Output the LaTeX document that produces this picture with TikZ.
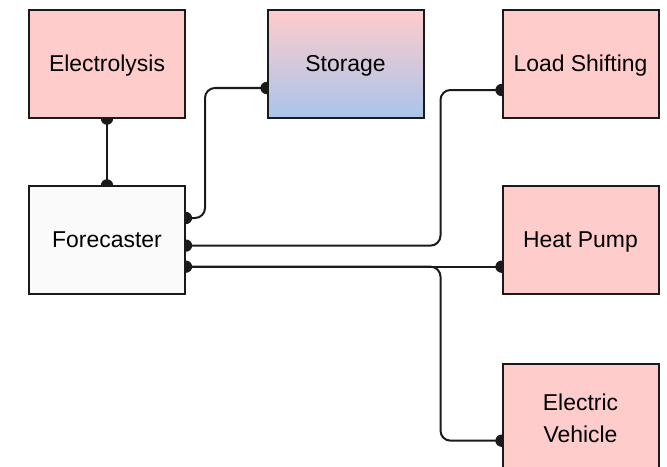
\documentclass[tikz,border=0pt]{standalone}
\usepackage{fontspec}
\setmainfont{Liberation Sans}
\usetikzlibrary{backgrounds}
\definecolor{pinkfill}{HTML}{FFCCCC}
\definecolor{bluefill}{HTML}{A9C4EB}
\definecolor{greyfill}{HTML}{FAFAFA}
\definecolor{edgecol}{HTML}{1A1A1A}
\begin{document}
\begin{tikzpicture}[x=0.75pt,y=-0.75pt,
  box/.style={draw=edgecol,line width=1.5pt,minimum width=117pt,minimum height=80.5pt,inner sep=0pt,
    align=center,font=\fontsize{17.2}{24}\selectfont},
  oneline/.style={text height=15.5pt,text depth=3.6pt},
  pinkbox/.style={box,fill=pinkfill},
  conn/.style={draw=edgecol,line width=1.5pt,rounded corners=7.5pt},
  dot/.style={fill=edgecol}]
\useasboundingbox (0,0) rectangle (667,467);
\node[pinkbox,oneline] (el) at (107,64) {Electrolysis};
\node[box,oneline,top color=pinkfill,bottom color=bluefill] (st) at (345.5,64) {Storage};
\node[pinkbox,oneline] (ls) at (580.5,64) {Load Shifting};
\node[box,oneline,fill=greyfill] (fc) at (107,240) {Forecaster};
\node[pinkbox,oneline] (hp) at (580.5,240) {Heat Pump};
\node[pinkbox] (ev) at (580.5,418) {Electric\\Vehicle};
\coordinate (fcA) at ([yshift=16.5pt]fc.east);
\coordinate (fcB) at ([yshift=-4.2pt]fc.east);
\coordinate (fcC) at ([yshift=-20pt]fc.east);
\coordinate (stP) at ([yshift=-18pt]st.west);
\coordinate (lsP) at ([yshift=-19.5pt]ls.west);
\coordinate (hpP) at ([yshift=-20pt]hp.west);
\coordinate (evP) at ([yshift=-17pt]ev.west);
\begin{scope}[on background layer]
\draw[conn] (el.south) -- (fc.north);
\draw[conn] (fcA) -- (205,0 |- fcA) -- (205,0 |- stP) -- (stP);
\draw[conn] (fcB) -- (440.5,0 |- fcB) -- (440.5,0 |- lsP) -- (lsP);
\draw[conn] (fcC) -- (hpP);
\draw[conn] (fcC) -- (440.5,0 |- fcC) -- (440.5,0 |- evP) -- (evP);
\foreach \p in {el.south,fc.north,fcA,fcB,fcC,stP,lsP,hpP,evP}
  \fill[dot] (\p) circle (4.6pt);
\end{scope}
\end{tikzpicture}
\end{document}
